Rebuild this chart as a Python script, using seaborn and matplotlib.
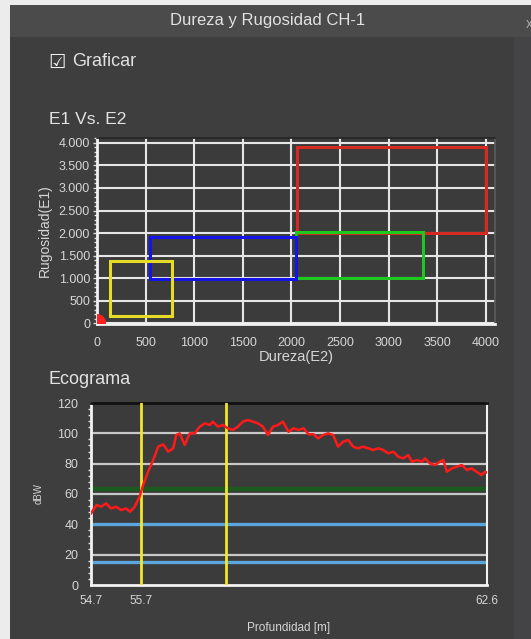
import numpy as np
import pandas as pd
import matplotlib
matplotlib.use("Agg")
import matplotlib.pyplot as plt
from matplotlib.patches import Rectangle
from matplotlib.ticker import FuncFormatter, AutoMinorLocator
import seaborn as sns

# -----------------------------
# DATA
# -----------------------------

# E1 Vs. E2 zones (Dureza on x, Rugosidad on y)
zone_colors = ["#d42a22", "#1fc81f", "#1414e6", "#e6dc28"]
zone_x_min = [2060, 2050, 550, 130]
zone_x_max = [4000, 3350, 2050, 770]
zone_y_min = [2010, 1000, 990, 150]
zone_y_max = [3900, 2020, 1910, 1380]

point_x = [0]
point_y = [0]

x_ticks_top = [0, 500, 1000, 1500, 2000, 2500, 3000, 3500, 4000]
y_ticks_top = [0, 500, 1000, 1500, 2000, 2500, 3000, 3500, 4000]

# Ecograma curve
depth = [54.70, 54.74, 54.81, 54.90, 55.00, 55.10, 55.20, 55.30, 55.40, 55.48,
         55.57, 55.67, 55.74, 55.84, 55.94, 56.04, 56.14, 56.24, 56.34, 56.40,
         56.47, 56.57, 56.67, 56.77, 56.87, 56.97, 57.07, 57.13, 57.23, 57.33,
         57.43, 57.53, 57.63, 57.73, 57.83, 57.93, 58.03, 58.13, 58.23, 58.33,
         58.43, 58.53, 58.64, 58.74, 58.84, 58.94, 59.04, 59.14, 59.23, 59.33,
         59.43, 59.53, 59.63, 59.73, 59.83, 59.93, 60.03, 60.13, 60.23, 60.33,
         60.43, 60.53, 60.63, 60.73, 60.83, 60.93, 61.03, 61.10, 61.20, 61.30,
         61.36, 61.46, 61.56, 61.66, 61.73, 61.80, 61.90, 62.00, 62.10, 62.20,
         62.29, 62.39, 62.49, 62.56, 62.60]
dbw = [47.0, 49.4, 52.7, 51.6, 53.8, 50.5, 51.6, 49.4, 50.5, 48.3,
       51.6, 58.2, 65.9, 74.7, 82.4, 91.2, 92.7, 87.9, 90.1, 98.9,
       100.0, 92.3, 100.0, 100.0, 104.4, 106.6, 105.5, 107.7, 104.4, 105.5,
       103.3, 102.2, 104.4, 107.7, 108.8, 107.7, 106.6, 104.4, 98.9, 104.4,
       105.5, 107.7, 101.0, 103.3, 102.2, 103.3, 99.4, 99.4, 96.7, 98.9,
       100.0, 98.9, 91.2, 94.5, 95.6, 91.2, 90.1, 91.2, 90.1, 89.0,
       90.1, 89.0, 86.8, 87.9, 84.6, 83.5, 85.7, 81.3, 82.4, 81.3,
       83.5, 80.2, 79.1, 81.3, 82.4, 74.7, 76.9, 78.0, 79.1, 75.8,
       76.9, 74.7, 72.5, 74.7, 74.0]

marker_depths = [55.7, 57.4]
green_level = [63]
blue_levels = [40, 15]
grid_levels = [20, 60, 80, 100]
x_ticks_bottom = [54.7, 55.7, 62.6]
y_ticks_bottom = [0, 20, 40, 60, 80, 100, 120]

# -----------------------------
# STYLE
# -----------------------------

W, H = 531, 639
BODY = "#3e3e3e"
TXT = "#e2e2e2"
TICK = "#d6d6d6"

sns.set_theme(style="dark")
plt.rcParams["font.family"] = ["Liberation Sans", "DejaVu Sans"]
plt.rcParams["axes.unicode_minus"] = False

fig = plt.figure(figsize=(W / 100, H / 100), dpi=100, facecolor="#ececec")


def fx(px):
    return px / W


def fy(py):
    return 1 - py / H


# window body and title bar (behind the axes)
fig.patches.append(Rectangle((fx(10), 0), fx(521), fy(5), transform=fig.transFigure,
                             facecolor=BODY, edgecolor="none", zorder=-3))
fig.patches.append(Rectangle((fx(10), fy(37)), fx(521), fy(5) - fy(37),
                             transform=fig.transFigure, facecolor="#4b4b4b",
                             edgecolor="none", zorder=-2))
fig.patches.append(Rectangle((fx(514), 0), fx(17), fy(37), transform=fig.transFigure,
                             facecolor="#444446", edgecolor="none", zorder=-2))

fig.text(fx(268), fy(21), "Dureza y Rugosidad CH-1", color=TXT, fontsize=12,
         ha="center", va="center")
fig.text(fx(529), fy(24), "x", color="#aaaaaa", fontsize=10, ha="center", va="center")
fig.text(fx(48), fy(62), "\u2611", color="#f0f0f0", fontsize=14, ha="left", va="center",
         family="DejaVu Sans")
fig.text(fx(72), fy(62), "Graficar", color=TXT, fontsize=13, ha="left", va="center")
fig.text(fx(49), fy(119), "E1 Vs. E2", color=TXT, fontsize=12.5, ha="left", va="center")
fig.text(fx(49), fy(379), "Ecograma", color=TXT, fontsize=13, ha="left", va="center")

# -----------------------------
# E1 VS. E2
# -----------------------------

ax1 = fig.add_axes([fx(97), fy(324), fx(398), fy(138) - fy(324)])
ax1.set_facecolor("#3b3b3b")

for c, x0, x1, y0, y1 in zip(zone_colors, zone_x_min, zone_x_max, zone_y_min, zone_y_max):
    ax1.add_patch(Rectangle((x0, y0), x1 - x0, y1 - y0, fill=False,
                            edgecolor=c, linewidth=2.2, zorder=3))

sns.scatterplot(x=point_x, y=point_y, ax=ax1, color="#ff2020", s=170,
                edgecolor="none", zorder=4, clip_on=True)

ax1.set_xlim(0, 4093)
ax1.set_ylim(-20, 4110)
ax1.set_xticks(x_ticks_top)
ax1.set_yticks(y_ticks_top)
ax1.yaxis.set_major_formatter(FuncFormatter(lambda v, p: f"{int(v):,}".replace(",", ".")))
ax1.grid(True, color="#e6e6e6", linewidth=1.5)
ax1.set_axisbelow(True)
ax1.tick_params(axis="both", colors=TICK, labelsize=9, length=3, width=1,
                direction="out", bottom=False, left=True)
ax1.tick_params(axis="y", pad=2)
ax1.tick_params(axis="x", pad=6)
ax1.yaxis.set_minor_locator(AutoMinorLocator(5))
ax1.tick_params(axis="y", which="minor", left=True, length=2, color="#dddddd")
for s in ["left", "bottom"]:
    ax1.spines[s].set_color("#f2f2f2")
    ax1.spines[s].set_linewidth(2)
ax1.spines["top"].set_color("#262626")
ax1.spines["right"].set_color("#5a5a5a")
ax1.set_xlabel("Dureza(E2)", color=TICK, fontsize=10.5, labelpad=1)
ax1.set_ylabel("Rugosidad(E1)", color=TICK, fontsize=10, labelpad=5)

# -----------------------------
# ECOGRAMA
# -----------------------------

ax2 = fig.add_axes([fx(91), fy(585), fx(396), fy(403) - fy(585)])
ax2.set_facecolor("#3b3b3b")

for lv in grid_levels:
    ax2.axhline(lv, color="#c8c8c8", linewidth=1.6, zorder=1)
for lv in green_level:
    ax2.axhline(lv, color="#1d5a1d", linewidth=3.2, zorder=2)
for lv in blue_levels:
    ax2.axhline(lv, color="#5aa6dc", linewidth=2.4, zorder=2)
for d in marker_depths:
    ax2.axvline(d, color="#f2e62a", linewidth=2, zorder=3)

curve = pd.DataFrame({"depth": depth, "dbw": dbw})
sns.lineplot(data=curve, x="depth", y="dbw", ax=ax2, color="#ff1a1a",
             linewidth=1.8, zorder=4)

ax2.set_xlim(54.7, 62.6)
ax2.set_ylim(0, 120)
ax2.set_xticks(x_ticks_bottom)
ax2.set_xticklabels([f"{v:.1f}" for v in x_ticks_bottom])
ax2.set_yticks(y_ticks_bottom)
ax2.grid(False)
ax2.tick_params(axis="both", colors=TICK, labelsize=9, length=0, pad=9)
ax2.tick_params(axis="x", labelsize=8.5, pad=7)
ax2.yaxis.set_minor_locator(AutoMinorLocator(5))
ax2.tick_params(axis="y", which="minor", left=True, length=2, color="#dddddd")
for s in ["left", "bottom", "right"]:
    ax2.spines[s].set_color("#f2f2f2")
    ax2.spines[s].set_linewidth(2)
ax2.spines["right"].set_linewidth(1.5)
ax2.spines["top"].set_color("#111111")
ax2.spines["top"].set_linewidth(2)
ax2.set_xlabel("Profundidad [m]", color=TICK, fontsize=8.5, labelpad=11)
ax2.set_ylabel("dBW", color=TICK, fontsize=7, labelpad=10)

fig.savefig("out.png", dpi=100, facecolor=fig.get_facecolor())
